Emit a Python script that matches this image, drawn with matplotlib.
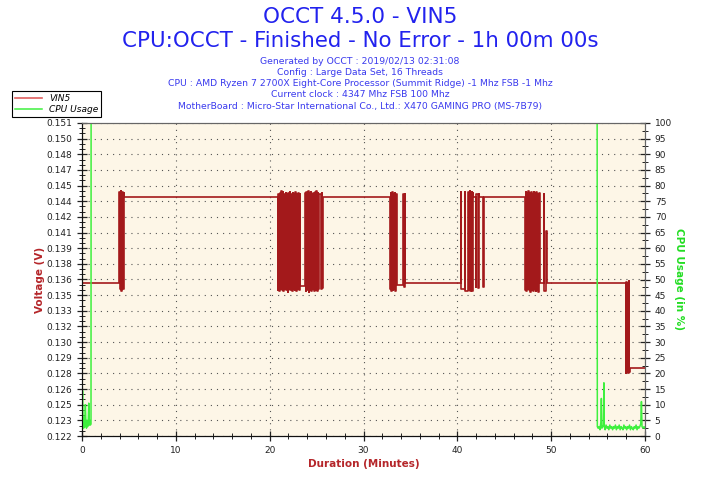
import matplotlib
matplotlib.use("Agg")
import numpy as np
import matplotlib.pyplot as plt
from matplotlib.ticker import MultipleLocator, AutoMinorLocator, FixedLocator, FixedFormatter

# VIN5 voltage readings (minutes, volts), drawn as a step line
vin5_t = [0.0,
          3.98, 4.05, 4.12, 4.20, 4.28, 4.36, 4.44, 4.52,
          20.86, 20.94, 21.01, 21.09, 21.16, 21.24, 21.31, 21.39, 21.46, 21.54, 21.61,
          21.69, 21.76, 21.84, 21.91, 21.99, 22.06, 22.14, 22.21, 22.29, 22.36, 22.44,
          22.51, 22.59, 22.66, 22.74, 22.81, 22.89, 22.96, 23.04, 23.11, 23.19, 23.24,
          23.77, 23.85, 23.92, 24.00, 24.07, 24.15, 24.22, 24.30, 24.37, 24.45, 24.52,
          24.60, 24.67, 24.75, 24.82, 24.90, 24.97, 25.05, 25.12, 25.20, 25.30, 25.42,
          25.55, 25.62, 25.66,
          32.84, 32.91, 32.98, 33.05, 33.12, 33.19, 33.26, 33.33, 33.40, 33.47, 33.55,
          34.22, 34.27, 34.42, 34.47,
          40.35, 40.40, 40.80, 40.86, 41.18, 41.24, 41.30, 41.36, 41.42, 41.48, 41.54,
          41.60, 41.66, 41.72, 41.98, 42.03, 42.22, 42.28, 42.34, 42.75, 42.80,
          47.23, 47.30, 47.37, 47.44, 47.51, 47.58, 47.65, 47.72, 47.79, 47.86, 47.93,
          48.00, 48.07, 48.14, 48.21, 48.28, 48.35, 48.42, 48.49, 48.56, 48.63, 48.70,
          48.76, 49.22, 49.28, 49.45, 49.52,
          57.96, 58.02, 58.08, 58.14, 58.20, 58.26, 58.32, 58.40,
          60.0]
vin5_v = [0.1362,
          0.1446, 0.1356, 0.1447, 0.1354, 0.1446, 0.1356, 0.1445, 0.1441,
          0.1355, 0.1444, 0.1354, 0.1445, 0.1356, 0.1447, 0.1355, 0.1446, 0.1354, 0.1444, 0.1356,
          0.1445, 0.1355, 0.1444, 0.1353, 0.1445, 0.1356, 0.1446, 0.1355, 0.1444, 0.1354, 0.1445,
          0.1356, 0.1444, 0.1355, 0.1446, 0.1354, 0.1444, 0.1356, 0.1445, 0.1355, 0.1444, 0.1359,
          0.1445, 0.1354, 0.1446, 0.1355, 0.1447, 0.1353, 0.1445, 0.1355, 0.1446, 0.1354, 0.1444,
          0.1356, 0.1445, 0.1354, 0.1446, 0.1355, 0.1447, 0.1354, 0.1445, 0.1356, 0.1444, 0.1356,
          0.1445, 0.1357, 0.1441,
          0.1356, 0.1445, 0.1354, 0.1446, 0.1355, 0.1444, 0.1356, 0.1445, 0.1354, 0.1444, 0.1360,
          0.1444, 0.1358, 0.1444, 0.1362,
          0.1446, 0.1356, 0.1446, 0.1354, 0.1446, 0.1355, 0.1447, 0.1354, 0.1445, 0.1356, 0.1446,
          0.1354, 0.1445, 0.1441, 0.1358, 0.1444, 0.1357, 0.1444, 0.1441, 0.1358, 0.1441,
          0.1355, 0.1446, 0.1354, 0.1445, 0.1356, 0.1447, 0.1355, 0.1445, 0.1353, 0.1446, 0.1355,
          0.1444, 0.1354, 0.1446, 0.1356, 0.1445, 0.1354, 0.1446, 0.1355, 0.1444, 0.1353, 0.1445,
          0.1362, 0.1444, 0.1354, 0.1410, 0.1362,
          0.1278, 0.1363, 0.1279, 0.1362, 0.1278, 0.1364, 0.1279, 0.1283,
          0.1283]

# CPU usage (minutes, percent)
cpu_t = [0.0, 0.06, 0.12, 0.18, 0.24, 0.30, 0.36, 0.42, 0.48, 0.54, 0.60, 0.66, 0.72,
         0.78, 0.84, 0.90, 0.96, 0.97, 54.90, 54.92,
         55.00, 55.10, 55.20, 55.30, 55.35, 55.40, 55.50, 55.58, 55.62, 55.66, 55.75,
         55.85, 55.95, 56.05, 56.15, 56.25, 56.35, 56.45, 56.55, 56.65, 56.75, 56.85,
         56.95, 57.05, 57.15, 57.25, 57.35, 57.45, 57.55, 57.65, 57.75, 57.85, 57.95,
         58.05, 58.15, 58.25, 58.35, 58.45, 58.55, 58.65, 58.75, 58.85, 58.95, 59.05,
         59.15, 59.25, 59.35, 59.45, 59.55, 59.62, 59.68, 59.80, 59.90, 60.0]
cpu_v = [8.0, 14.5, 4.0, 2.5, 6.0, 3.0, 10.0, 3.5, 2.5, 5.0, 3.0, 4.0, 10.5,
         3.5, 5.0, 3.5, 4.0, 100.0, 100.0, 3.0,
         2.5, 3.0, 2.0, 4.5, 12.0, 2.5, 3.0, 3.5, 17.0, 3.0, 2.0,
         3.5, 2.5, 3.0, 2.0, 3.5, 2.5, 3.0, 2.0, 3.0, 2.5, 3.5,
         2.0, 3.0, 2.5, 3.5, 2.0, 3.0, 2.5, 2.0, 3.5, 2.5, 3.0,
         2.0, 3.0, 2.5, 3.5, 2.0, 3.0, 2.5, 2.0, 3.0, 2.5, 3.5,
         2.0, 3.0, 2.5, 3.0, 4.0, 11.0, 3.0, 2.5, 3.0, 2.5]

volt_labels = ["0.122", "0.123", "0.125", "0.126", "0.128", "0.129", "0.130",
               "0.132", "0.133", "0.135", "0.136", "0.138", "0.139", "0.141",
               "0.142", "0.144", "0.145", "0.147", "0.148", "0.150", "0.151"]

info_lines = ["Generated by OCCT : 2019/02/13 02:31:08",
              "Config : Large Data Set, 16 Threads",
              "CPU : AMD Ryzen 7 2700X Eight-Core Processor (Summit Ridge) -1 Mhz FSB -1 Mhz",
              "Current clock : 4347 Mhz FSB 100 Mhz",
              "MotherBoard : Micro-Star International Co., Ltd.: X470 GAMING PRO (MS-7B79)"]

red = "#a3191b"
green = "#3ef03e"
label_red = "#b5262a"
blue = "#2222ee"

plt.rcParams['font.family'] = ['DejaVu Sans']
fig = plt.figure(figsize=(7.2, 4.8), dpi=100)
ax = fig.add_axes([82 / 720, 44 / 480, 563 / 720, 313 / 480])
ax.set_facecolor("#fdf6e7")

ax.plot(vin5_t, vin5_v, drawstyle="steps-post", color=red, lw=1.2, label="VIN5")
ax.set_xlim(0, 60)
ax.set_ylim(0.122, 0.151)
vticks = np.linspace(0.122, 0.151, 21)
ax.yaxis.set_major_locator(FixedLocator(vticks))
ax.yaxis.set_major_formatter(FixedFormatter(volt_labels))
ax.yaxis.set_minor_locator(AutoMinorLocator(3))
ax.xaxis.set_major_locator(MultipleLocator(10))
ax.xaxis.set_minor_locator(MultipleLocator(2))
ax.tick_params(axis="both", which="major", direction="inout", length=7, width=0.9,
               labelsize=6.5, colors="#222222")
ax.tick_params(axis="both", which="minor", direction="inout", length=4, width=0.7,
               colors="#222222")
ax.grid(True, which="major", linestyle=(0, (1, 4.5)), color="#555555", lw=0.8)

ax2 = ax.twinx()
ax2.plot(cpu_t, cpu_v, color=green, lw=1.1, label="CPU Usage")
ax2.set_ylim(0, 100)
ax2.yaxis.set_major_locator(MultipleLocator(5))
ax2.yaxis.set_minor_locator(AutoMinorLocator(2))
ax2.tick_params(axis="y", which="major", direction="inout", length=7, width=0.9,
                labelsize=6.5, colors="#222222")
ax2.tick_params(axis="y", which="minor", direction="inout", length=4, width=0.7,
                colors="#222222")

for a in (ax, ax2):
    a.spines["left"].set_color("#111111")
    a.spines["bottom"].set_color("#111111")
    a.spines["top"].set_color("#666666")
    a.spines["right"].set_color("#666666")

ax.set_ylabel("Voltage (V)", color=label_red, fontsize=7.5, fontweight="bold", labelpad=1)
ax.set_xlabel("Duration (Minutes)", color=label_red, fontsize=7.5, fontweight="bold", labelpad=3)
ax2.set_ylabel("CPU Usage (in %)", color="#22dd22", fontsize=7.5, fontweight="bold",
               rotation=270, labelpad=9)

fig.text(0.5, 1 - 17 / 480, "OCCT 4.5.0 - VIN5", ha="center", va="center",
         color=blue, fontsize=15.5)
fig.text(0.5, 1 - 41 / 480, "CPU:OCCT - Finished - No Error - 1h 00m 00s", ha="center",
         va="center", color=blue, fontsize=15.4)
for i, line in enumerate(info_lines):
    fig.text(0.5, 1 - (61 + 11.3 * i) / 480, line, ha="center", va="center",
             color="#3a3aee", fontsize=6.65)

h1, l1 = ax.get_legend_handles_labels()
h2, l2 = ax2.get_legend_handles_labels()
leg = fig.legend(h1 + h2, l1 + l2, loc="upper left", bbox_to_anchor=(12 / 720, 1 - 91 / 480),
                 fancybox=False, edgecolor="#000000", framealpha=1,
                 prop={"style": "italic", "size": 6.5}, handlelength=3.0,
                 borderpad=0.3, labelspacing=0.3, borderaxespad=0)
leg.get_frame().set_linewidth(0.8)
leg.get_lines()[0].set_color("#e06060")

fig.savefig("out.png", dpi=100)
